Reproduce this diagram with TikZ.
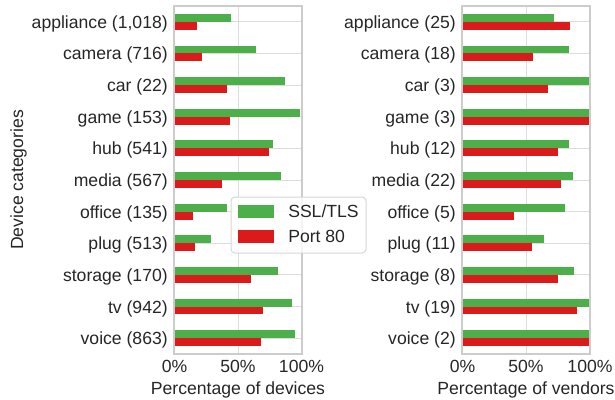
\documentclass[tikz,border=0pt]{standalone}
\usepackage{fontspec}
\setmainfont{Liberation Sans}
\usepackage{tikz}
\usetikzlibrary{math}

\definecolor{sslgreen}{HTML}{4DAF4A}
\definecolor{portred}{HTML}{DB1A1C}
\definecolor{framegray}{HTML}{CCCCCC}
\definecolor{gridgray}{HTML}{DCDCDC}
\definecolor{inkgray}{HTML}{262626}

\begin{document}
\begin{tikzpicture}[x = .75pt, y = -.75pt, font = \fontsize{13.2}{16}\selectfont, text = inkgray,
	gridline/.style = {draw = gridgray, line width = .75pt},
	axisframe/.style = {draw = framegray, line width = .95pt},
	catlabel/.style = {anchor = base east, inner sep = 0},
	ticklabel/.style = {anchor = base, inner sep = 0}]

	\useasboundingbox (0,0) rectangle (615,400);

	\tikzmath{\xa = 174.5; \xb = 301.5; \yt = 6; \dy = 31.636; \bh = 7.9;};
	\draw[gridline] (238,\yt) -- (238,354);
	\foreach \cat/\num/\ssl/\http [count = \i from 0] in {appliance/{1,018}/.443/.176, camera/716/.639/.216,
		car/22/.867/.412, game/153/.985/.435, hub/541/.773/.741, media/567/.835/.373, office/135/.412/.145,
		plug/513/.286/.161, storage/170/.812/.600, tv/942/.929/.694, voice/863/.945/.678}
	{
		\tikzmath{\yc = \yt + (\i + .5)*\dy;};
		\draw[gridline] (\xa,\yc) -- (\xb,\yc);
		\fill[sslgreen] (\xa,\yc - \bh) rectangle ++(127*\ssl,\bh);
		\fill[portred] (\xa,\yc) rectangle ++(127*\http,\bh);
		\node[catlabel] (dev\i) at (168,\yc + 6.5) {\cat\ (\num)};
	}
	\draw[axisframe] (174,6) rectangle (302,354);
	\node[ticklabel] (dev0p) at (174.5,372.5) {0\%};
	\node[ticklabel] (dev50p) at (238,372.5) {50\%};
	\node[ticklabel] (dev100p) at (301.5,372.5) {100\%};
	\node[ticklabel] (devaxis) at (238,394.5) {Percentage of devices};
	\node[ticklabel, rotate = 90] (cataxis) at (23,180) {Device categories};

	\tikzmath{\xa = 462.5; \xb = 590;};
	\draw[gridline] (526,\yt) -- (526,354);
	\foreach \cat/\num/\ssl/\http [count = \i from 0] in {appliance/25/.72/.84, camera/18/.833/.556,
		car/3/1/.667, game/3/1/1, hub/12/.833/.75, media/22/.864/.773, office/5/.8/.4,
		plug/11/.636/.545, storage/8/.875/.75, tv/19/1/.895, voice/2/1/1}
	{
		\tikzmath{\yc = \yt + (\i + .5)*\dy;};
		\draw[gridline] (\xa,\yc) -- (\xb,\yc);
		\fill[sslgreen] (\xa,\yc - \bh) rectangle ++(127.5*\ssl,\bh);
		\fill[portred] (\xa,\yc) rectangle ++(127.5*\http,\bh);
		\node[catlabel] (ven\i) at (456,\yc + 6.5) {\cat\ (\num)};
	}
	\draw[axisframe] (462,6) rectangle (590,354);
	\node[ticklabel] (ven0p) at (462.5,372.5) {0\%};
	\node[ticklabel] (ven50p) at (526,372.5) {50\%};
	\node[ticklabel] (ven100p) at (590,372.5) {100\%};
	\node[ticklabel] (venaxis) at (526,394.5) {Percentage of vendors};

	\draw[draw = framegray, draw opacity = .8, fill = white, fill opacity = .8, line width = .75pt,
		rounded corners = 3pt] (231,197) rectangle (366,253);
	\fill[sslgreen] (238,205) rectangle (274,217.5);
	\fill[portred] (238,230) rectangle (274,242.5);
	\node[anchor = base west, inner sep = 0] (sslkey) at (288,217.7) {SSL/TLS};
	\node[anchor = base west, inner sep = 0] (portkey) at (288,242.7) {Port 80};

\end{tikzpicture}
\end{document}
